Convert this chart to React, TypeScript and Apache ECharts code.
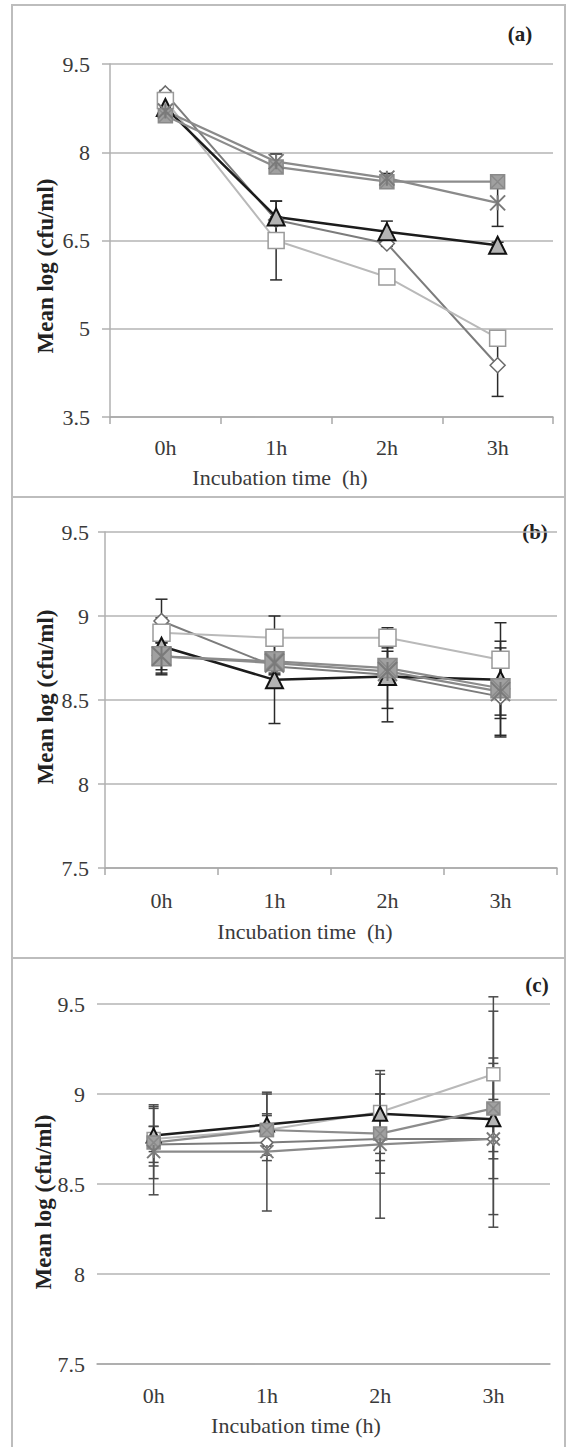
import React, { useEffect, useRef } from "react";
import * as echarts from "echarts";

// ---------- data ----------
const CATEGORIES = ["0h", "1h", "2h", "3h"];

// Panel (a)
const A_Y_TICKS = [3.5, 5, 6.5, 8, 9.5];
const A_DIAMOND = [9.0, 6.85, 6.45, 4.38];
const A_DIAMOND_ERR = [0.05, 0.05, 0.05, 0.53];
const A_SQUARE = [8.88, 6.5, 5.88, 4.84];
const A_SQUARE_ERR = [0.05, 0.67, 0.05, 0.12];
const A_TRIANGLE = [8.76, 6.9, 6.65, 6.42];
const A_TRIANGLE_ERR = [0.05, 0.27, 0.18, 0.05];
const A_XMARK = [8.62, 7.75, 7.5, 7.5];
const A_XMARK_ERR = [0.05, 0.05, 0.05, 0.05];
const A_STAR = [8.7, 7.84, 7.56, 7.14];
const A_STAR_ERR = [0.05, 0.13, 0.08, 0.4];

// Panel (b)
const B_Y_TICKS = [7.5, 8, 8.5, 9, 9.5];
const B_DIAMOND = [8.97, 8.7, 8.65, 8.52];
const B_DIAMOND_ERR = [0.13, 0.05, 0.05, 0.24];
const B_SQUARE = [8.9, 8.87, 8.87, 8.74];
const B_SQUARE_ERR = [0.05, 0.13, 0.06, 0.22];
const B_TRIANGLE = [8.82, 8.62, 8.64, 8.62];
const B_TRIANGLE_ERR = [0.17, 0.26, 0.27, 0.23];
const B_XMARK = [8.76, 8.73, 8.69, 8.57];
const B_XMARK_ERR = [0.1, 0.05, 0.1, 0.16];
const B_STAR = [8.76, 8.72, 8.67, 8.55];
const B_STAR_ERR = [0.08, 0.06, 0.22, 0.26];

// Panel (c)
const C_Y_TICKS = [7.5, 8, 8.5, 9, 9.5];
const C_DIAMOND = [8.72, 8.73, 8.75, 8.75];
const C_DIAMOND_ERR = [0.1, 0.1, 0.12, 0.22];
const C_SQUARE = [8.75, 8.8, 8.9, 9.11];
const C_SQUARE_ERR = [0.07, 0.08, 0.1, 0.43];
const C_TRIANGLE = [8.77, 8.83, 8.89, 8.86];
const C_TRIANGLE_ERR = [0.17, 0.17, 0.22, 0.6];
const C_XMARK = [8.73, 8.8, 8.78, 8.92];
const C_XMARK_ERR = [0.2, 0.09, 0.22, 0.28];
const C_STAR = [8.68, 8.68, 8.72, 8.75];
const C_STAR_ERR = [0.24, 0.33, 0.41, 0.42];

const PANEL_LABELS = ["(a)", "(b)", "(c)"];
const Y_TITLE = "Mean log (cfu/ml)";
const X_TITLES = ["Incubation time  (h)", "Incubation time  (h)", "Incubation time (h)"];

// ---------- styles / layout ----------
const FONT = "'Liberation Serif', 'Times New Roman', serif";
const STAR_PATH = "path://M0,0L10,10M10,0L0,10M5,0L5,10";
const XSQ_PATH = "path://M0,0L10,0L10,10L0,10ZM0,0L10,10M10,0L0,10";

const LAYOUT = [
  { left: 110, top: 64, width: 443, height: 353, tickLen: 8, ticks: true, yLine: true, yMargin: 20, xMargin: 19,
    yTitle: [45, 266], xTitle: [280, 477], label: [520, 34], box: [12, 5, 553, 492],
    sizes: { diamond: 15, square: 16, triangle: 17, xmark: 14, star: 15 } },
  { left: 105, top: 532, width: 452, height: 336, tickLen: 7, ticks: true, yLine: true, yMargin: 16, xMargin: 21,
    yTitle: [45, 697], xTitle: [305, 931], label: [535, 532], box: [12, 497, 553, 461],
    sizes: { diamond: 15, square: 17, triangle: 17, xmark: 19, star: 19 } },
  { left: 97, top: 1004, width: 453, height: 360, tickLen: 0, ticks: false, yLine: false, yMargin: 12, xMargin: 20,
    yTitle: [43, 1202], xTitle: [296, 1425], label: [537, 985], box: [12, 958, 553, 500],
    sizes: { diamond: 12, square: 13, triangle: 14, xmark: 13, star: 13 } },
];

type SeriesDef = { key: string; values: number[]; errs: number[] };

const PANELS: { ticks: number[]; series: SeriesDef[] }[] = [
  {
    ticks: A_Y_TICKS,
    series: [
      { key: "diamond", values: A_DIAMOND, errs: A_DIAMOND_ERR },
      { key: "square", values: A_SQUARE, errs: A_SQUARE_ERR },
      { key: "triangle", values: A_TRIANGLE, errs: A_TRIANGLE_ERR },
      { key: "xmark", values: A_XMARK, errs: A_XMARK_ERR },
      { key: "star", values: A_STAR, errs: A_STAR_ERR },
    ],
  },
  {
    ticks: B_Y_TICKS,
    series: [
      { key: "diamond", values: B_DIAMOND, errs: B_DIAMOND_ERR },
      { key: "square", values: B_SQUARE, errs: B_SQUARE_ERR },
      { key: "triangle", values: B_TRIANGLE, errs: B_TRIANGLE_ERR },
      { key: "xmark", values: B_XMARK, errs: B_XMARK_ERR },
      { key: "star", values: B_STAR, errs: B_STAR_ERR },
    ],
  },
  {
    ticks: C_Y_TICKS,
    series: [
      { key: "diamond", values: C_DIAMOND, errs: C_DIAMOND_ERR },
      { key: "square", values: C_SQUARE, errs: C_SQUARE_ERR },
      { key: "triangle", values: C_TRIANGLE, errs: C_TRIANGLE_ERR },
      { key: "xmark", values: C_XMARK, errs: C_XMARK_ERR },
      { key: "star", values: C_STAR, errs: C_STAR_ERR },
    ],
  },
];

const STYLE: Record<string, any> = {
  diamond: { symbol: "diamond", line: "#7c7c7c", lw: 2, fill: "#ffffff", border: "#6a6a6a", bw: 1.5 },
  square: { symbol: "rect", line: "#b9b9b9", lw: 2, fill: "#ffffff", border: "#9a9a9a", bw: 1.5 },
  triangle: { symbol: "triangle", line: "#1c1c1c", lw: 2.5, fill: "#b3b3b3", border: "#111111", bw: 2 },
  xmark: { symbol: XSQ_PATH, line: "#8c8c8c", lw: 2.2, fill: "#a0a0a0", border: "#8a8a8a", bw: 1.5 },
  star: { symbol: STAR_PATH, line: "#8a8a8a", lw: 2.2, fill: "#8a8a8a", border: "#7a7a7a", bw: 2 },
};

function errRender(capHalf: number, color: string) {
  return (params: any, api: any) => {
    const x = api.value(0);
    const v = api.value(1);
    const e = api.value(2);
    const hi = api.coord([x, v + e]);
    const lo = api.coord([x, v - e]);
    const style = { stroke: color, lineWidth: 1.5 };
    return {
      type: "group",
      children: [
        { type: "line", shape: { x1: hi[0], y1: hi[1], x2: lo[0], y2: lo[1] }, style },
        { type: "line", shape: { x1: hi[0] - capHalf, y1: hi[1], x2: hi[0] + capHalf, y2: hi[1] }, style },
        { type: "line", shape: { x1: lo[0] - capHalf, y1: lo[1], x2: lo[0] + capHalf, y2: lo[1] }, style },
      ],
    };
  };
}

function buildOption() {
  const grid: any[] = [];
  const xAxis: any[] = [];
  const yAxis: any[] = [];
  const series: any[] = [];
  const graphic: any[] = [];

  PANELS.forEach((p, i) => {
    const L: any = LAYOUT[i];
    grid.push({ left: L.left, top: L.top, width: L.width, height: L.height, containLabel: false });
    xAxis.push({
      type: "category",
      gridIndex: i,
      data: CATEGORIES,
      boundaryGap: true,
      axisLine: { show: true, lineStyle: { color: "#a8a8a8", width: 1.5 } },
      axisTick: { show: L.ticks, length: 7, lineStyle: { color: "#a8a8a8", width: 1.5 } },
      axisLabel: { fontFamily: FONT, fontSize: 22, color: "#3a3a3a", margin: L.xMargin },
      splitLine: { show: false },
    });
    const t = p.ticks;
    yAxis.push({
      type: "value",
      gridIndex: i,
      min: t[0],
      max: t[t.length - 1],
      interval: t[1] - t[0],
      axisLine: { show: L.yLine, lineStyle: { color: "#b0b0b0", width: 1.5 } },
      axisTick: { show: L.ticks, length: L.tickLen, lineStyle: { color: "#b0b0b0", width: 1.5 } },
      axisLabel: { fontFamily: FONT, fontSize: 22, color: "#3a3a3a", margin: L.yMargin },
      splitLine: { show: true, lineStyle: { color: "#b5b5b5", width: 1.5 } },
    });

    const errColor = i === 2 ? "#4a4a4a" : "#2a2a2a";
    p.series.forEach((s) => {
      series.push({
        type: "custom",
        name: PANEL_LABELS[i] + " " + s.key + " err",
        xAxisIndex: i,
        yAxisIndex: i,
        clip: false,
        z: 2,
        silent: true,
        encode: { x: 0, y: 1 },
        data: s.values.map((v, k) => [k, v, s.errs[k]]),
        renderItem: errRender(i === 2 ? 5 : 6, errColor),
      });
    });
    p.series.forEach((s) => {
      const st = STYLE[s.key];
      series.push({
        type: "line",
        name: PANEL_LABELS[i] + " " + s.key,
        xAxisIndex: i,
        yAxisIndex: i,
        data: s.values,
        z: 3,
        symbol: st.symbol,
        symbolSize: L.sizes[s.key],
        showAllSymbol: true,
        lineStyle: { color: st.line, width: st.lw },
        itemStyle: { color: st.fill, borderColor: st.border, borderWidth: st.bw },
      });
    });

    graphic.push({
      type: "rect",
      shape: { x: L.box[0], y: L.box[1], width: L.box[2], height: L.box[3] },
      style: { fill: "none", stroke: "#bdbdbd", lineWidth: 2 },
      z: 0,
    });
    graphic.push({
      type: "text",
      x: L.yTitle[0],
      y: L.yTitle[1],
      rotation: Math.PI / 2,
      style: {
        text: Y_TITLE,
        font: "bold 23px " + FONT,
        fill: "#222222",
        textAlign: "center",
        textVerticalAlign: "middle",
      },
    });
    graphic.push({
      type: "text",
      x: L.xTitle[0],
      y: L.xTitle[1],
      style: {
        text: X_TITLES[i],
        font: "22px " + FONT,
        fill: "#3a3a3a",
        textAlign: "center",
        textVerticalAlign: "middle",
      },
    });
    graphic.push({
      type: "text",
      x: L.label[0],
      y: L.label[1],
      style: {
        text: PANEL_LABELS[i],
        font: "bold 21px " + FONT,
        fill: "#222222",
        textAlign: "center",
        textVerticalAlign: "middle",
      },
    });
  });

  return {
    animation: false,
    backgroundColor: "#ffffff",
    grid,
    xAxis,
    yAxis,
    series,
    graphic,
  };
}

export default function App() {
  const ref = useRef<HTMLDivElement>(null);
  useEffect(() => {
    if (!ref.current) return;
    const chart = echarts.init(ref.current, null, { renderer: "svg" });
    chart.setOption(buildOption());
    return () => chart.dispose();
  }, []);
  return (
    <div
      ref={ref}
      style={{ position: "absolute", left: 0, top: 0, width: 567, height: 1447, background: "#fff" }}
    />
  );
}
